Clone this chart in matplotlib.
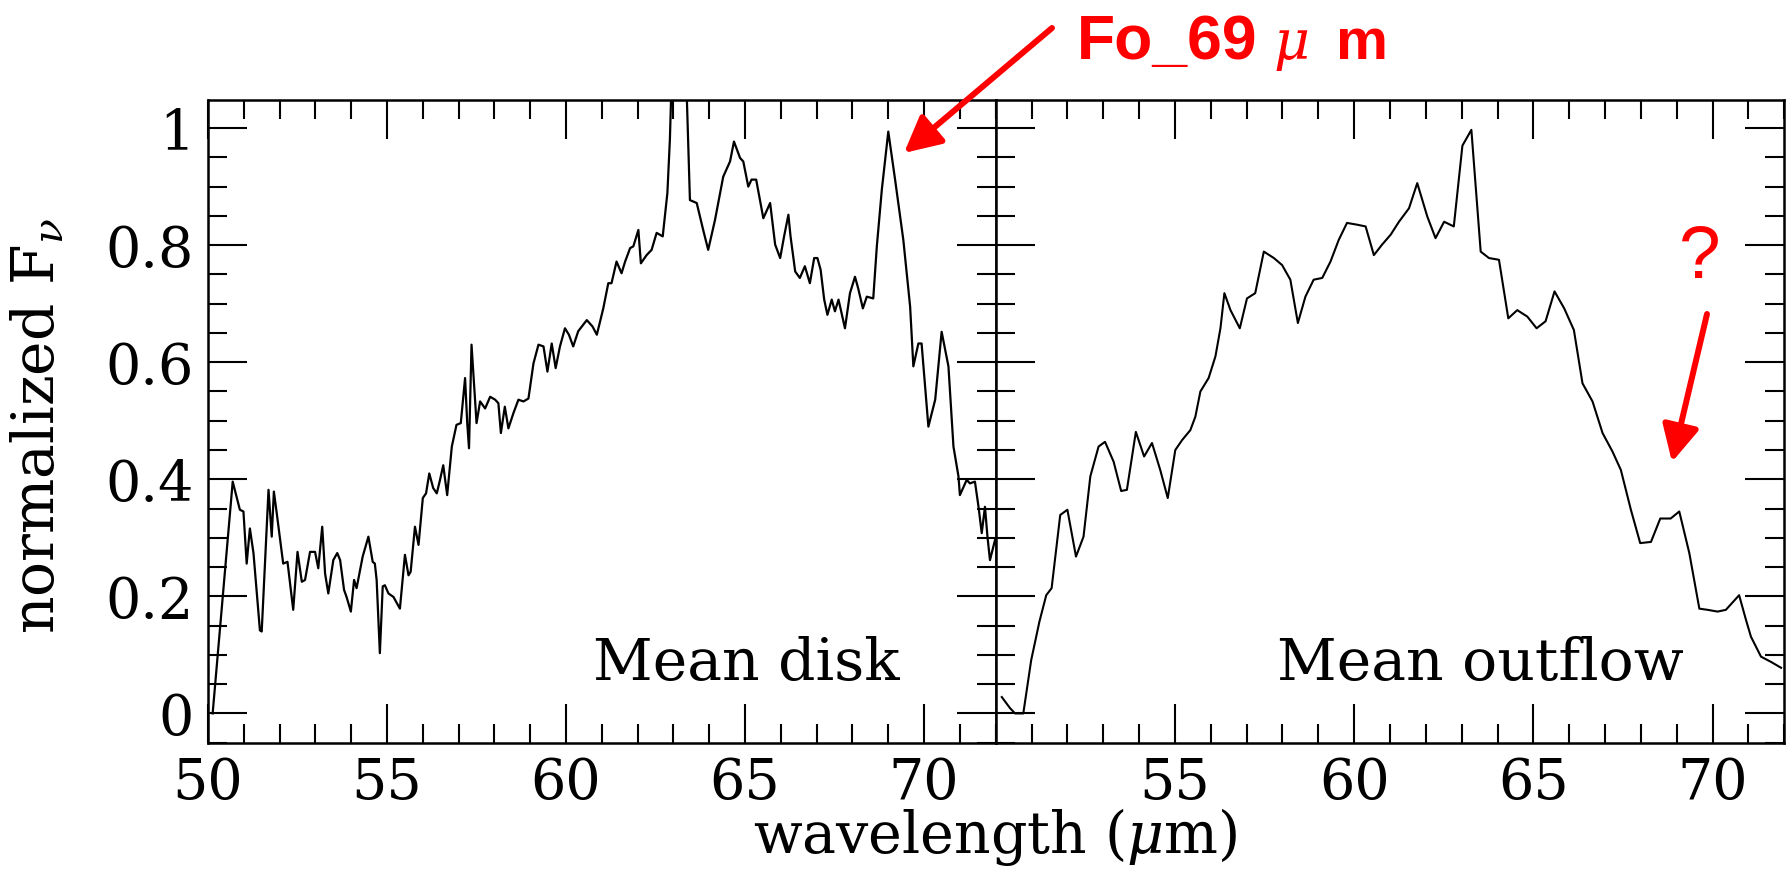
import numpy as np
import matplotlib
matplotlib.use("Agg")
import matplotlib.pyplot as plt
from matplotlib.ticker import MultipleLocator, FixedLocator, FixedFormatter

# mean disk spectrum (wavelength in micron, normalized F_nu)
disk_wl = [50.13, 50.69, 50.89, 50.99, 51.08, 51.17, 51.27, 51.45, 51.50, 51.69,
           51.78, 51.84, 51.92, 52.10, 52.22, 52.38, 52.50, 52.62, 52.71, 52.85,
           52.99, 53.08, 53.19, 53.27, 53.36, 53.50, 53.61, 53.69, 53.80, 53.87,
           53.99, 54.08, 54.15, 54.32, 54.48, 54.60, 54.66, 54.71, 54.80, 54.88,
           54.94, 55.04, 55.18, 55.36, 55.50, 55.60, 55.66, 55.78, 55.88, 56.00,
           56.09, 56.18, 56.29, 56.39, 56.48, 56.57, 56.68, 56.81, 56.94, 57.06,
           57.18, 57.24, 57.29, 57.36, 57.43, 57.50, 57.60, 57.74, 57.88, 58.02,
           58.11, 58.18, 58.29, 58.39, 58.53, 58.67, 58.81, 58.95, 59.09, 59.23,
           59.37, 59.48, 59.60, 59.71, 59.83, 59.97, 60.08, 60.20, 60.34, 60.58,
           60.74, 60.86, 61.04, 61.18, 61.27, 61.41, 61.55, 61.65, 61.79, 61.88,
           62.02, 62.09, 62.25, 62.39, 62.53, 62.70, 62.83, 62.90, 63.05, 63.30,
           63.46, 63.65, 63.83, 63.97, 64.16, 64.39, 64.58, 64.69, 64.86, 64.95,
           65.09, 65.18, 65.31, 65.51, 65.70, 65.84, 65.98, 66.09, 66.21, 66.27,
           66.40, 66.53, 66.67, 66.81, 66.93, 67.02, 67.11, 67.21, 67.30, 67.42,
           67.51, 67.61, 67.79, 67.93, 68.07, 68.16, 68.29, 68.40, 68.58, 68.68,
           68.82, 69.00, 69.19, 69.42, 69.61, 69.70, 69.84, 69.93, 70.12, 70.31,
           70.49, 70.68, 70.82, 70.96, 71.00, 71.19, 71.28, 71.42, 71.52, 71.61,
           71.70, 71.77, 71.84, 71.98]
disk_flux = [0.000, 0.396, 0.348, 0.345, 0.256, 0.316, 0.274, 0.142, 0.140, 0.382,
             0.302, 0.379, 0.342, 0.256, 0.259, 0.177, 0.276, 0.225, 0.228, 0.276,
             0.276, 0.248, 0.319, 0.239, 0.205, 0.262, 0.274, 0.262, 0.211, 0.199,
             0.174, 0.228, 0.214, 0.268, 0.302, 0.259, 0.256, 0.228, 0.103, 0.217,
             0.219, 0.205, 0.199, 0.179, 0.271, 0.236, 0.242, 0.319, 0.288, 0.368,
             0.376, 0.410, 0.385, 0.376, 0.399, 0.424, 0.373, 0.456, 0.493, 0.496,
             0.573, 0.496, 0.453, 0.630, 0.564, 0.496, 0.533, 0.521, 0.541, 0.536,
             0.530, 0.479, 0.524, 0.487, 0.513, 0.536, 0.533, 0.538, 0.598, 0.630,
             0.627, 0.584, 0.632, 0.590, 0.627, 0.658, 0.647, 0.627, 0.653, 0.672,
             0.661, 0.647, 0.692, 0.735, 0.735, 0.772, 0.752, 0.772, 0.795, 0.798,
             0.826, 0.769, 0.783, 0.792, 0.821, 0.815, 0.889, 0.980, 1.300, 1.200,
             0.877, 0.872, 0.826, 0.792, 0.843, 0.917, 0.943, 0.977, 0.949, 0.943,
             0.900, 0.912, 0.912, 0.846, 0.872, 0.801, 0.778, 0.815, 0.852, 0.815,
             0.755, 0.744, 0.764, 0.735, 0.778, 0.778, 0.758, 0.707, 0.681, 0.707,
             0.687, 0.707, 0.658, 0.718, 0.746, 0.726, 0.692, 0.712, 0.709, 0.798,
             0.895, 0.994, 0.912, 0.809, 0.695, 0.593, 0.632, 0.632, 0.490, 0.536,
             0.652, 0.593, 0.456, 0.405, 0.373, 0.399, 0.393, 0.396, 0.353, 0.308,
             0.353, 0.302, 0.262, 0.296]

# mean outflow spectrum
outflow_wl = [50.17, 50.40, 50.54, 50.77, 50.99, 51.22, 51.41, 51.56, 51.80, 52.00,
              52.24, 52.45, 52.64, 52.87, 53.05, 53.29, 53.50, 53.66, 53.91, 54.14,
              54.36, 54.59, 54.80, 55.01, 55.20, 55.43, 55.57, 55.71, 55.94, 56.13,
              56.27, 56.38, 56.55, 56.81, 57.01, 57.24, 57.48, 57.76, 57.99, 58.22,
              58.43, 58.64, 58.87, 59.11, 59.34, 59.57, 59.80, 60.08, 60.32, 60.55,
              60.78, 61.02, 61.25, 61.53, 61.76, 62.04, 62.27, 62.51, 62.78, 63.02,
              63.27, 63.53, 63.76, 64.04, 64.30, 64.55, 64.83, 65.09, 65.34, 65.59,
              65.86, 66.13, 66.37, 66.65, 66.93, 67.21, 67.44, 67.72, 67.98, 68.28,
              68.54, 68.83, 69.07, 69.35, 69.63, 69.86, 70.14, 70.37, 70.74, 70.93,
              71.07, 71.35, 71.63, 71.91]
outflow_flux = [0.028, 0.009, 0.000, 0.000, 0.091, 0.157, 0.202, 0.214, 0.339, 0.348,
                0.268, 0.302, 0.405, 0.456, 0.464, 0.430, 0.380, 0.382, 0.481, 0.439,
                0.462, 0.416, 0.368, 0.450, 0.467, 0.484, 0.507, 0.550, 0.573, 0.610,
                0.658, 0.718, 0.689, 0.658, 0.709, 0.718, 0.789, 0.778, 0.766, 0.741,
                0.667, 0.712, 0.741, 0.744, 0.772, 0.809, 0.838, 0.835, 0.832, 0.783,
                0.801, 0.818, 0.840, 0.863, 0.906, 0.849, 0.812, 0.840, 0.832, 0.970,
                0.997, 0.789, 0.778, 0.775, 0.675, 0.689, 0.678, 0.658, 0.670, 0.721,
                0.692, 0.655, 0.564, 0.533, 0.479, 0.447, 0.416, 0.348, 0.291, 0.293,
                0.333, 0.333, 0.345, 0.274, 0.179, 0.177, 0.174, 0.177, 0.202, 0.160,
                0.131, 0.097, 0.088, 0.078]

y_ticks = [0, 0.2, 0.4, 0.6, 0.8, 1]
y_labels = ["0", "0.2", "0.4", "0.6", "0.8", "1"]

plt.rcParams['font.family'] = ['DejaVu Serif']
plt.rcParams['mathtext.fontset'] = 'dejavuserif'

W, H = 1787, 872
fig = plt.figure(figsize=(W / 100, H / 100), dpi=100)

def fx(px):
    return px / W

def fy(py):
    return 1 - py / H

x0, xm, x1 = 208, 995.7, 1784.3
ytop, ybot = 100, 742.7
ax1 = fig.add_axes([fx(x0), fy(ybot), fx(xm - x0), (ybot - ytop) / H])
ax2 = fig.add_axes([fx(xm), fy(ybot), fx(x1 - xm), (ybot - ytop) / H])

ax1.plot(disk_wl, disk_flux, color='black', lw=1.6)
ax2.plot(outflow_wl, outflow_flux, color='black', lw=1.5)

for ax in (ax1, ax2):
    ax.set_xlim(50, 72)
    ax.set_ylim(-0.05, 1.048)
    ax.xaxis.set_major_locator(MultipleLocator(5))
    ax.xaxis.set_minor_locator(MultipleLocator(1))
    ax.yaxis.set_major_locator(FixedLocator(y_ticks))
    ax.yaxis.set_minor_locator(MultipleLocator(0.05))
    ax.tick_params(which='both', direction='in', top=True, right=True,
                   width=1.5, labelsize=40, pad=10)
    ax.tick_params(which='major', length=28)
    ax.tick_params(which='minor', length=14)
    for s in ax.spines.values():
        s.set_linewidth(1.8)

ax1.yaxis.set_major_formatter(FixedFormatter(y_labels))
ax1.xaxis.set_major_locator(FixedLocator([50, 55, 60, 65, 70]))
ax2.xaxis.set_major_locator(FixedLocator([55, 60, 65, 70]))
ax2.tick_params(labelleft=False)

fig.text(fx(593), fy(680), "Mean disk", fontsize=42, ha='left', va='baseline')
fig.text(fx(1277), fy(680), "Mean outflow", fontsize=42, ha='left', va='baseline')

fig.text(fx(xm), fy(853), r"wavelength ($\mu$m)", fontsize=41, ha='center', va='baseline')
fig.text(fx(38), fy(426), r"normalized F$_\nu$", fontsize=42, rotation=90,
         ha='center', va='center')

# red annotations
red = '#ff0000'
fig.text(fx(1077), fy(59), "Fo_69", fontsize=45, fontweight='bold', color=red,
         family='Liberation Sans', ha='left', va='baseline')
fig.text(fx(1273), fy(59), r"$\mu$", fontsize=40, color=red, ha='left', va='baseline')
fig.text(fx(1336), fy(59), "m", fontsize=42, fontweight='bold', color=red,
         family='Liberation Sans', ha='left', va='baseline')
fig.text(fx(1700), fy(278), "?", fontsize=54, color=red, family='Liberation Sans',
         ha='center', va='baseline')

arrow = dict(arrowstyle='-|>,head_length=0.55,head_width=0.28', color=red, lw=4.3,
             mutation_scale=40, shrinkA=0, shrinkB=0)
ax1.annotate("", xy=(fx(904), fy(153)), xytext=(fx(1052), fy(28)),
             xycoords='figure fraction', textcoords='figure fraction',
             arrowprops=arrow, annotation_clip=False)
ax2.annotate("", xy=(fx(1672), fy(462)), xytext=(fx(1707), fy(314)),
             xycoords='figure fraction', textcoords='figure fraction',
             arrowprops=arrow, annotation_clip=False)

fig.savefig("out.png", dpi=100)
